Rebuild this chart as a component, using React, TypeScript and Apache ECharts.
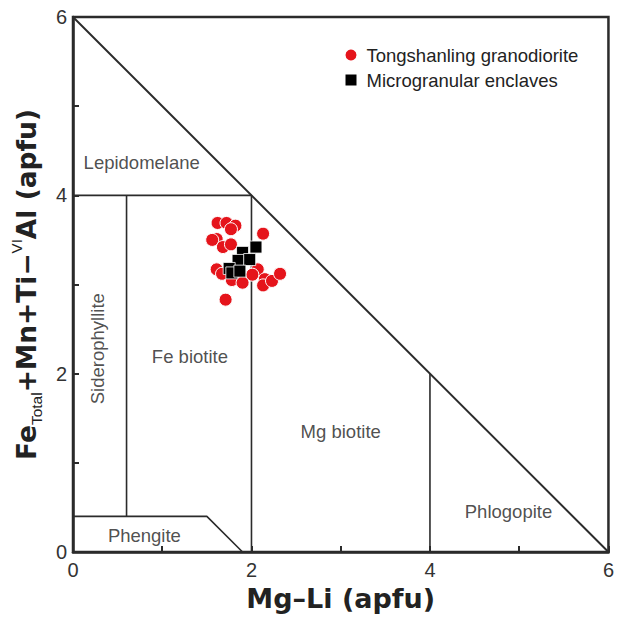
import React, { useEffect, useRef } from "react";
import * as echarts from "echarts";

const FONT = "'Liberation Sans', Arial, sans-serif";
const TITLE_FONT = "'DejaVu Sans', 'Liberation Sans', sans-serif";
const INK = "#2b2b2b";

// Tick labels
const xTicks = [0, 2, 4, 6];
const yTicks = [0, 2, 4, 6];

// Field boundaries (Mg–Li, Fe+Mn+Ti–AlVI)
const diagonalLine = [[0, 6], [6, 0]];
const lepidomelaneBase = [[0, 4], [2, 4]];
const feMgBoundary = [[2, 0], [2, 4]];
const siderophylliteBoundary = [[0.6, 0.4], [0.6, 4]];
const phlogopiteBoundary = [[4, 0], [4, 2]];
const phengiteBoundary = [[0, 0.4], [1.5, 0.4], [1.9, 0]];

// Field names and anchor points
const fieldNames = ["Lepidomelane", "Siderophyllite", "Fe biotite", "Mg biotite", "Phlogopite", "Phengite"];
const fieldX = [0.77, 0.28, 1.31, 3.0, 4.88, 0.8];
const fieldY = [4.37, 2.28, 2.19, 1.35, 0.45, 0.19];

// Tongshanling granodiorite
const graniteX = [1.62, 1.72, 1.82, 1.77, 2.13, 1.61, 1.56, 1.68, 1.77, 1.61, 1.78, 1.9, 2.07, 2.01, 2.15, 2.13, 2.23, 2.32, 1.71, 1.67];
const graniteY = [3.69, 3.69, 3.66, 3.62, 3.57, 3.51, 3.5, 3.42, 3.45, 3.17, 3.05, 3.02, 3.17, 3.11, 3.06, 2.99, 3.04, 3.12, 2.83, 3.12];

// Microgranular enclaves
const enclaveX = [1.9, 2.05, 1.85, 1.98, 1.75, 1.78, 1.87];
const enclaveY = [3.36, 3.42, 3.27, 3.28, 3.18, 3.13, 3.15];

const lineSeries = (data: number[][], width: number) => ({
  type: "line",
  data,
  symbol: "none",
  silent: true,
  z: 1,
  lineStyle: { color: INK, width },
});

export default function App() {
  const ref = useRef<HTMLDivElement>(null);
  useEffect(() => {
    if (!ref.current) return;
    const chart = echarts.init(ref.current, null, { renderer: "svg" });
    const axisCommon = {
      type: "value",
      min: 0,
      max: 6,
      interval: 2,
      splitLine: { show: false },
      axisLine: { show: true, lineStyle: { color: INK, width: 2.5 } },
      axisTick: { show: true, inside: true, length: 6, lineStyle: { color: INK, width: 2 } },
      minorTick: { show: true, splitNumber: 2, length: 6, lineStyle: { color: INK, width: 2 } },
    };
    chart.setOption({
      animation: false,
      backgroundColor: "#fff",
      textStyle: { fontFamily: FONT },
      grid: { left: 73, right: 7, top: 17, bottom: 66, show: true, borderColor: INK, borderWidth: 2.5 },
      legend: {
        orient: "vertical",
        left: 338.5,
        top: 40,
        itemWidth: 13,
        itemHeight: 13,
        itemGap: 5,
        textStyle: { fontFamily: FONT, fontSize: 18.5, color: "#222", lineHeight: 20, padding: [0, 0, 0, 4] },
        data: [
          { name: "Tongshanling granodiorite", icon: "circle" },
          { name: "Microgranular enclaves", icon: "rect" },
        ],
      },
      xAxis: {
        ...axisCommon,
        axisLabel: {
          fontSize: 20,
          color: "#333",
          margin: 8,
          formatter: (v: number) => (xTicks.includes(v) ? String(v) : ""),
        },
        name: "Mg–Li (apfu)",
        nameLocation: "middle",
        nameGap: 31,
        nameTextStyle: { fontFamily: TITLE_FONT, fontSize: 27, fontWeight: "bold", color: "#222" },
      },
      yAxis: {
        ...axisCommon,
        axisLabel: {
          fontSize: 20,
          color: "#333",
          margin: 6,
          formatter: (v: number) => (yTicks.includes(v) ? String(v) : ""),
        },
        name: "{a|Fe}{b|Total}{a|+Mn+Ti−}{c|VI}{a|Al (apfu)}",
        nameLocation: "middle",
        nameRotate: 90,
        nameGap: 23,
        nameTextStyle: {
          rich: {
            a: { fontFamily: TITLE_FONT, fontSize: 26.5, fontWeight: "bold", color: "#222", lineHeight: 36 },
            b: { fontFamily: FONT, fontSize: 15.5, color: "#222", verticalAlign: "bottom" },
            c: { fontFamily: FONT, fontSize: 15, color: "#222", verticalAlign: "top" },
          },
        },
      },
      series: [
        lineSeries(diagonalLine, 2),
        lineSeries(lepidomelaneBase, 1.6),
        lineSeries(feMgBoundary, 1.6),
        lineSeries(siderophylliteBoundary, 1.6),
        lineSeries(phlogopiteBoundary, 1.6),
        lineSeries(phengiteBoundary, 1.6),
        {
          type: "scatter",
          silent: true,
          symbolSize: 0,
          z: 2,
          data: fieldNames.map((n, i) => ({
            name: n,
            value: [fieldX[i], fieldY[i]],
            label: n === "Siderophyllite" ? { rotate: 90 } : undefined,
          })),
          label: {
            show: true,
            position: "inside",
            formatter: (p: any) => p.name,
            fontFamily: FONT,
            fontSize: 18.5,
            color: "#222",
          },
        },
        {
          name: "Tongshanling granodiorite",
          type: "scatter",
          symbol: "circle",
          symbolSize: 13,
          z: 3,
          itemStyle: { color: "#e5141b", borderColor: "#fff", borderWidth: 1, opacity: 1 },
          data: graniteX.map((x, i) => [x, graniteY[i]]),
        },
        {
          name: "Microgranular enclaves",
          type: "scatter",
          symbol: "rect",
          symbolSize: 12,
          z: 4,
          itemStyle: { color: "#000", borderColor: "#fff", borderWidth: 0.8, opacity: 1 },
          data: enclaveX.map((x, i) => [x, enclaveY[i]]),
        },
      ],
    });
    return () => chart.dispose();
  }, []);
  return <div ref={ref} style={{ position: "fixed", left: 0, top: 0, width: 617, height: 618 }} />;
}
